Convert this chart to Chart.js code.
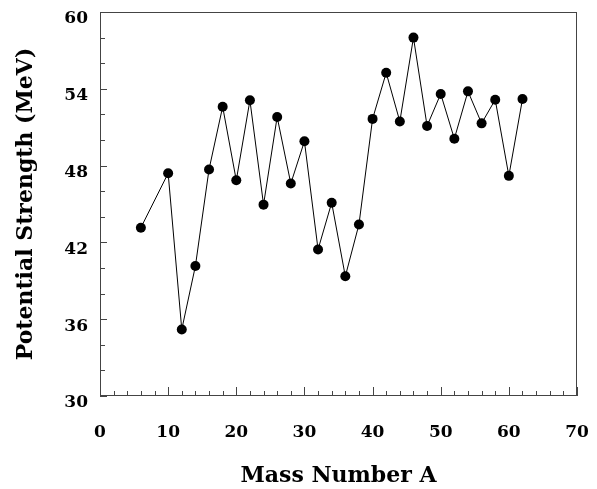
<!DOCTYPE html>
<html>
<head>
<meta charset="utf-8">
<script src="https://cdn.jsdelivr.net/npm/chart.js@4"></script>
<style>
  html, body { margin: 0; padding: 0; background: #fff; }
  #wrap { width: 597px; height: 489px; }
</style>
</head>
<body>
<div id="wrap"><canvas id="potentialChart" width="597" height="489"></canvas></div>
<script>
// Số khối A và cường độ thế (MeV)
const massNumbers = [6, 10, 12, 14, 16, 18, 20, 22, 24, 26, 28, 30, 32, 34, 36, 38, 40, 42, 44, 46, 48, 50, 52, 54, 56, 58, 60, 62];
const potentialStrength = [43.15, 47.4, 35.2, 40.15, 47.7, 52.6, 46.85, 53.1, 44.95, 51.8, 46.6, 49.9, 41.45, 45.1, 39.35, 43.4,
    51.65, 55.25, 51.45, 58.0, 51.1, 53.6, 50.1, 53.8, 51.3, 53.15, 47.2, 53.2];

const xTicks = [0, 10, 20, 30, 40, 50, 60, 70];
const yTicks = [30, 36, 42, 48, 54, 60];

const serif = "'DejaVu Serif', 'Liberation Serif', serif";

// Vẽ khung và các vạch chia hướng vào trong
const framePlugin = {
    id: 'frame',
    afterDraw(chart) {
        const { ctx, chartArea: a, scales: { x, y } } = chart;
        ctx.save();
        ctx.strokeStyle = '#444';
        ctx.lineWidth = 1;
        ctx.strokeRect(a.left + 0.5, a.top + 0.5, a.right - a.left - 1, a.bottom - a.top - 1);

        ctx.beginPath();
        for (let v = x.min; v <= x.max; v += 2) {
            const px = Math.round(x.getPixelForValue(v)) + 0.5;
            const len = (v % 10 === 0) ? 9 : 5;
            ctx.moveTo(px, a.bottom);
            ctx.lineTo(px, a.bottom - len);
        }
        for (let v = y.min; v <= y.max; v += 2) {
            const py = Math.round(y.getPixelForValue(v)) + 0.5;
            const len = (v % 6 === 0) ? 7 : 5;
            ctx.moveTo(a.left, py);
            ctx.lineTo(a.left + len, py);
        }
        ctx.stroke();
        ctx.restore();
    }
};

const ctx = document.getElementById('potentialChart').getContext('2d');
new Chart(ctx, {
    type: 'line',
    data: {
        datasets: [{
            data: massNumbers.map((a, i) => ({ x: a, y: potentialStrength[i] })),
            borderColor: '#000',
            borderWidth: 1,
            backgroundColor: '#000',
            pointRadius: 5,
            pointBackgroundColor: '#000',
            pointBorderWidth: 0,
            tension: 0,
            fill: false
        }]
    },
    plugins: [framePlugin],
    options: {
        responsive: false,
        animation: false,
        layout: { padding: { top: 12, right: 20, left: 0, bottom: 0 } },
        plugins: {
            legend: { display: false },
            tooltip: { enabled: false }
        },
        scales: {
            x: {
                type: 'linear',
                min: 0,
                max: 70,
                afterBuildTicks: (scale) => { scale.ticks = xTicks.map(v => ({ value: v })); },
                afterFit: (scale) => {
                    scale.height = 93;
                    scale.paddingLeft = 0;
                    scale.paddingRight = 0;
                },
                grid: { display: false, drawTicks: false },
                border: { display: false },
                ticks: {
                    color: '#000',
                    padding: 26,
                    maxRotation: 0,
                    font: { family: serif, size: 17, weight: 'bold' }
                },
                title: {
                    display: true,
                    text: 'Mass Number A',
                    color: '#000',
                    padding: { top: 0, bottom: 0 },
                    font: { family: serif, size: 22, weight: 'bold' }
                }
            },
            y: {
                type: 'linear',
                min: 30,
                max: 60,
                afterBuildTicks: (scale) => { scale.ticks = yTicks.map(v => ({ value: v })); },
                afterFit: (scale) => {
                    scale.width = 100;
                    scale.paddingTop = 0;
                    scale.paddingBottom = 0;
                },
                grid: { display: false, drawTicks: false },
                border: { display: false },
                ticks: {
                    color: '#000',
                    padding: 12,
                    labelOffset: 7,
                    font: { family: serif, size: 17, weight: 'bold' }
                },
                title: {
                    display: true,
                    text: 'Potential Strength (MeV)',
                    color: '#000',
                    padding: { top: 13, bottom: 0 },
                    font: { family: serif, size: 22, weight: 'bold' }
                }
            }
        }
    }
});
</script>
</body>
</html>
